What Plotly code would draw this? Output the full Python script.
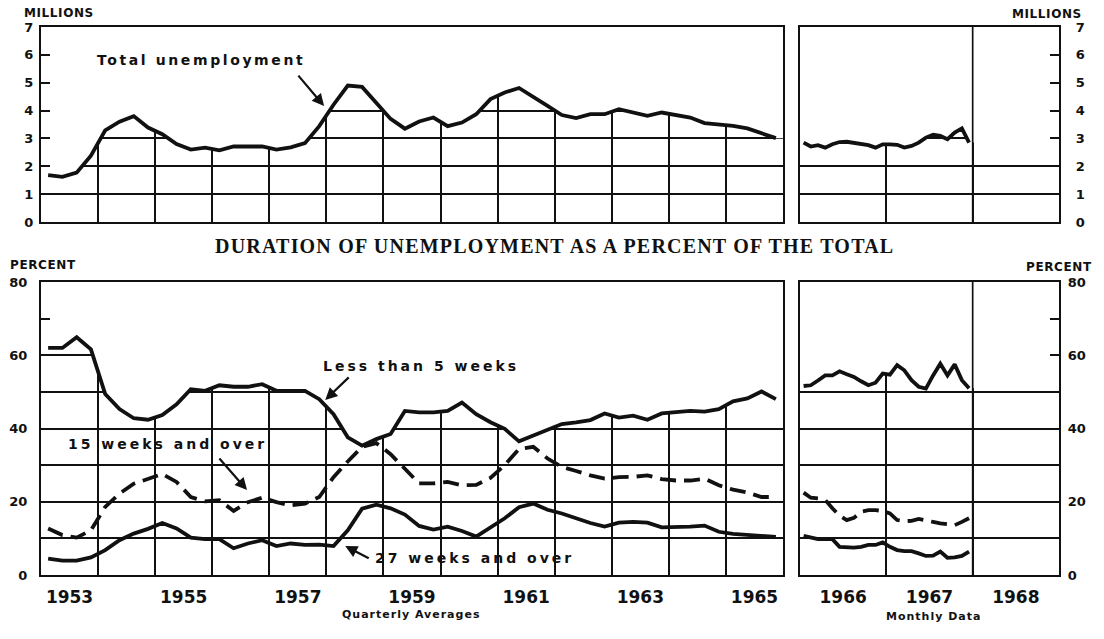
import numpy as np
import plotly.graph_objects as go

# page is shown with the browser's default 8px body margin
PAGE_W, PAGE_H = 1104, 639
OFF = 8
FW, FH = PAGE_W - 2 * OFF, PAGE_H - 2 * OFF

# ---------------- data ----------------
q_start_year = 1953          # quarterly averages start
m_start_year = 1966          # monthly data start
q_end_year = 1966
m_end_year = 1969
monthly_last_year = 1968     # divider after the monthly data

# Total unemployment, millions (quarterly averages 1953Q1-1965Q4)
total_q = [1.68, 1.62, 1.77, 2.38, 3.29, 3.60, 3.80, 3.39, 3.15, 2.80, 2.60, 2.67,
           2.57, 2.71, 2.71, 2.71, 2.60, 2.68, 2.83, 3.44, 4.21, 4.90, 4.85, 4.27,
           3.70, 3.35, 3.61, 3.75, 3.44, 3.57, 3.87, 4.41, 4.65, 4.81, 4.47, 4.17,
           3.84, 3.73, 3.87, 3.87, 4.05, 3.93, 3.81, 3.93, 3.84, 3.75, 3.55, 3.51,
           3.45, 3.36, 3.18, 3.01]
# Total unemployment, millions (monthly Jan 1966 - Dec 1967)
total_m = [2.85, 2.71, 2.76, 2.67, 2.79, 2.87, 2.88, 2.85, 2.79, 2.76, 2.67, 2.79,
           2.79, 2.77, 2.67, 2.73, 2.85, 3.03, 3.13, 3.09, 2.97, 3.21, 3.36, 2.85]

# Duration as percent of total
lt5_q = [62.0, 62.0, 64.9, 61.6, 49.4, 45.3, 42.8, 42.4, 43.7, 46.6, 50.7, 50.3,
         51.8, 51.4, 51.4, 52.1, 50.3, 50.4, 50.3, 48.0, 43.9, 37.6, 35.3, 37.1,
         38.5, 44.8, 44.4, 44.4, 44.8, 47.1, 43.9, 41.7, 39.9, 36.5, 38.0, 39.6,
         41.2, 41.7, 42.3, 44.1, 43.0, 43.5, 42.4, 44.1, 44.4, 44.8, 44.6, 45.3,
         47.4, 48.2, 50.1, 48.0]
w15_q = [12.7, 10.9, 10.2, 12.2, 18.6, 22.2, 24.9, 26.3, 27.6, 25.4, 21.3, 20.1,
         20.4, 17.5, 19.9, 21.1, 19.9, 19.0, 19.5, 21.3, 26.7, 31.0, 35.0, 36.0,
         33.0, 29.0, 25.0, 25.0, 25.4, 24.5, 24.6, 26.5, 30.0, 34.4, 35.0, 31.8,
         29.5, 28.4, 27.2, 26.3, 26.7, 26.8, 27.2, 26.2, 25.8, 25.8, 26.3, 24.5,
         23.3, 22.5, 21.3, 21.3]
w27_q = [4.5, 3.9, 3.9, 4.8, 6.8, 9.5, 11.3, 12.6, 14.2, 12.7, 10.2, 9.8,
         9.8, 7.3, 8.6, 9.5, 7.9, 8.6, 8.2, 8.3, 7.9, 12.2, 18.1, 19.2,
         18.2, 16.5, 13.4, 12.4, 13.2, 12.0, 10.5, 13.0, 15.5, 18.5, 19.5, 17.8,
         16.8, 15.5, 14.2, 13.2, 14.3, 14.5, 14.3, 13.0, 13.0, 13.2, 13.5, 11.8,
         11.2, 10.9, 10.6, 10.4]

lt5_m = [51.6, 51.8, 53.1, 54.5, 54.5, 55.6, 54.8, 54.1, 52.9, 51.8, 52.5, 55.0,
         54.7, 57.3, 55.9, 53.2, 51.4, 50.9, 54.5, 57.7, 54.5, 57.5, 53.2, 51.0]
w15_m = [22.5, 21.1, 20.9, 20.5, 18.2, 16.2, 15.0, 15.6, 17.3, 17.7, 17.7, 17.5,
         16.8, 15.0, 14.7, 14.8, 15.3, 15.0, 14.5, 14.1, 13.8, 13.6, 14.5, 15.5]
w27_m = [10.7, 10.2, 9.8, 9.8, 9.8, 7.7, 7.5, 7.5, 7.7, 8.2, 8.2, 8.9,
         7.7, 6.8, 6.5, 6.5, 5.9, 5.2, 5.3, 6.4, 4.7, 4.8, 5.2, 6.4]

year_labels_q = ["1953", "1955", "1957", "1959", "1961", "1963", "1965"]
year_labels_m = ["1966", "1967", "1968"]

millions_max = 7
percent_max = 80

# ---------------- positions ----------------
xq = q_start_year + (np.arange(len(total_q)) + 0.5) / 4
xm = m_start_year + (np.arange(len(total_m)) + 0.5) / 12


def fx(X):  # page pixel -> paper fraction
    return (X - OFF) / FW


def fy(Y):
    return 1 - (Y - OFF) / FH


FONT = "DejaVu Sans"
BLACK = "#111111"
LW = 3.8
GW = 1.7

fig = go.Figure()


def mask(xs, ys, x0, x1, top, xa, ya):
    """white cover above the top curve so the grid only shows beneath it"""
    px = [x0] + list(xs) + [x1, x1, x0]
    py = [ys[0]] + list(ys) + [ys[-1], top, top]
    fig.add_trace(go.Scatter(x=px, y=py, fill="toself", fillcolor="white",
                             mode="lines", line=dict(width=0, color="white"),
                             hoverinfo="skip", showlegend=False,
                             xaxis=xa, yaxis=ya))


def line(xs, ys, xa, ya, dash="solid"):
    fig.add_trace(go.Scatter(x=xs, y=ys, mode="lines",
                             line=dict(color=BLACK, width=LW, dash=dash,
                                       shape="linear"),
                             showlegend=False, xaxis=xa, yaxis=ya))


DASH = "16px,8px"

# top-left
mask(xq, total_q, q_start_year, q_end_year, millions_max, "x", "y")
line(xq, total_q, "x", "y")
# top-right
mask(xm, total_m, m_start_year, m_end_year, millions_max, "x2", "y2")
line(xm, total_m, "x2", "y2")
# bottom-left
mask(xq, lt5_q, q_start_year, q_end_year, percent_max, "x3", "y3")
line(xq, lt5_q, "x3", "y3")
line(xq, w15_q, "x3", "y3", DASH)
line(xq, w27_q, "x3", "y3")
# bottom-right
mask(xm, lt5_m, m_start_year, m_end_year, percent_max, "x4", "y4")
line(xm, lt5_m, "x4", "y4")
line(xm, w15_m, "x4", "y4", DASH)
line(xm, w27_m, "x4", "y4")

# ---------------- axes ----------------
dl = [fx(41), fx(783)]
dr = [fx(800), fx(1059)]
dt = [fy(222), fy(27)]
db = [fy(575), fy(282)]

base = dict(showline=True, mirror=True, linecolor=BLACK, linewidth=2.2,
            zeroline=False, fixedrange=True)
tickfont = dict(family=FONT, size=13, color=BLACK, weight="bold")

q_years_int = list(range(q_start_year + 1, q_end_year))
m_years_int = list(range(m_start_year + 1, m_end_year))
q_label_pos = [int(y) + 0.5 for y in year_labels_q]
m_label_pos = [int(y) + 0.5 for y in year_labels_m]

xgrid_q = dict(tickmode="array", tickvals=q_years_int, showgrid=True,
               gridcolor=BLACK, gridwidth=GW, ticks="")
xgrid_m = dict(tickmode="array", tickvals=m_years_int, showgrid=True,
               gridcolor=BLACK, gridwidth=GW, ticks="")
yearfont = dict(family=FONT, size=17, color=BLACK, weight="bold")

fig.update_layout(
    width=FW, height=FH, margin=dict(l=0, r=0, t=0, b=0, autoexpand=False),
    paper_bgcolor="white", plot_bgcolor="white", showlegend=False,
    xaxis=dict(**base, domain=dl, range=[q_start_year, q_end_year], anchor="y",
               tickmode="array", tickvals=[], showticklabels=False,
               showgrid=False, minor=xgrid_q),
    xaxis2=dict(**base, domain=dr, range=[m_start_year, m_end_year], anchor="y2",
                tickmode="array", tickvals=[], showticklabels=False,
                showgrid=False, minor=xgrid_m),
    xaxis3=dict(**base, domain=dl, range=[q_start_year, q_end_year], anchor="y3",
                tickmode="array", tickvals=q_label_pos, ticktext=year_labels_q,
                ticks="", showgrid=False, tickfont=yearfont,
                ticklabelstandoff=5, minor=xgrid_q),
    xaxis4=dict(**base, domain=dr, range=[m_start_year, m_end_year], anchor="y4",
                tickmode="array", tickvals=m_label_pos, ticktext=year_labels_m,
                ticks="", showgrid=False, tickfont=yearfont,
                ticklabelstandoff=5, minor=xgrid_m),
    yaxis=dict(**base, domain=dt, range=[0, millions_max], anchor="x",
               tickmode="linear", tick0=0, dtick=1, showgrid=True,
               gridcolor=BLACK, gridwidth=GW, ticks="inside", ticklen=9,
               tickwidth=2, tickcolor=BLACK, tickfont=tickfont,
               ticklabelstandoff=3),
    yaxis2=dict(**base, domain=dt, range=[0, millions_max], anchor="x2",
                side="right",
                tickmode="linear", tick0=0, dtick=1, showgrid=True,
                gridcolor=BLACK, gridwidth=GW, ticks="inside", ticklen=9,
                tickwidth=2, tickcolor=BLACK, tickfont=tickfont,
                ticklabelstandoff=12),
    yaxis3=dict(**base, domain=db, range=[0, percent_max], anchor="x3",
                tickmode="linear", tick0=0, dtick=20, showgrid=True,
                gridcolor=BLACK, gridwidth=GW, ticks="inside", ticklen=9,
                tickwidth=2, tickcolor=BLACK, tickfont=tickfont,
                ticklabelstandoff=9,
                minor=dict(tickmode="linear", tick0=0, dtick=10, showgrid=True,
                           gridcolor=BLACK, gridwidth=GW, ticks="inside",
                           ticklen=9, tickwidth=2, tickcolor=BLACK)),
    yaxis4=dict(**base, domain=db, range=[0, percent_max], anchor="x4",
                side="right",
                tickmode="linear", tick0=0, dtick=20, showgrid=True,
                gridcolor=BLACK, gridwidth=GW, ticks="inside", ticklen=9,
                tickwidth=2, tickcolor=BLACK, tickfont=tickfont,
                ticklabelstandoff=4,
                minor=dict(tickmode="linear", tick0=0, dtick=10, showgrid=True,
                           gridcolor=BLACK, gridwidth=GW, ticks="inside",
                           ticklen=9, tickwidth=2, tickcolor=BLACK)),
)

# divider at the end of the monthly data (full height)
for xa, ya in (("x2", "y2"), ("x4", "y4")):
    fig.add_shape(type="line", x0=monthly_last_year, x1=monthly_last_year,
                  xref=xa, yref=ya + " domain", y0=0, y1=1,
                  line=dict(color=BLACK, width=GW), layer="above")


# ---------------- text ----------------
def spaced(t, s):
    return f'<span style="letter-spacing:{s}px">{t}</span>'


def ptext(text, x, y, size, xanchor="center", family=FONT, weight="bold",
          spacing=0):
    fig.add_annotation(text=spaced(text, spacing) if spacing else text,
                       x=fx(x), y=fy(y), xref="paper", yref="paper",
                       xanchor=xanchor, yanchor="middle", showarrow=False,
                       font=dict(family=family, size=size, color=BLACK,
                                 weight=weight))


ptext("(Seasonally adjusted)", 553, -3, 17, weight="normal", spacing=1)
ptext("MILLIONS", 22, 13, 12, xanchor="left", spacing=0.6)
ptext("MILLIONS", 1084, 14, 12, xanchor="right", spacing=0.6)
ptext("DURATION OF UNEMPLOYMENT AS A PERCENT OF THE TOTAL", 554, 246, 20,
      family="Liberation Serif", spacing=1.2)
ptext("PERCENT", 8, 265, 12, xanchor="left", spacing=0.6)
ptext("PERCENT", 1094, 267, 12, xanchor="right", spacing=0.6)
ptext("Quarterly Averages", 411, 614, 11, spacing=1)
ptext("Monthly Data", 933, 616, 11, spacing=1)


def label(text, x, y, xa, ya, sp=3.0):
    fig.add_annotation(text=spaced(text, sp), x=x, y=y, xref=xa, yref=ya,
                       showarrow=False, xanchor="center", yanchor="middle",
                       font=dict(family=FONT, size=14, color=BLACK,
                                 weight="bold"))


def arrow(x, y, ax, ay, xa, ya):
    fig.add_annotation(text="", x=x, y=y, ax=ax, ay=ay, xref=xa, yref=ya,
                       showarrow=True, arrowhead=2, arrowsize=1.1,
                       arrowwidth=2.2, arrowcolor=BLACK)


label("Total unemployment", 1955.80, 5.80, "x", "y", 2.6)
arrow(1957.96, 4.16, -27, -32, "x", "y")
label("Less than 5 weeks", 1959.66, 57.1, "x3", "y3")
arrow(1957.98, 47.8, 25, -24, "x3", "y3")
label("15 weeks and over", 1955.21, 35.7, "x3", "y3")
arrow(1956.61, 23.2, -29, -33, "x3", "y3")
label("27 weeks and over", 1960.60, 4.6, "x3", "y3")
arrow(1958.33, 7.9, 25, 13, "x3", "y3")

fig.write_html("out.html")
